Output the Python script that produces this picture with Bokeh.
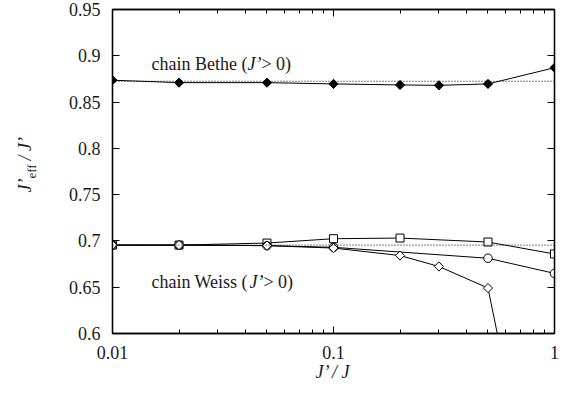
import math
from bokeh.plotting import figure
from bokeh.models import (FixedTicker, CustomJSTickFormatter, LogAxis, LinearAxis,
                          Span, Label, Range1d)
from bokeh.embed import file_html
from bokeh.resources import INLINE

# ---------------- data ----------------
x_bethe = [0.01, 0.02, 0.05, 0.1, 0.2, 0.3, 0.5, 1.0]
y_bethe = [0.8736, 0.8710, 0.8710, 0.8696, 0.8685, 0.8681, 0.8696, 0.8871]

x_square = [0.01, 0.02, 0.05, 0.1, 0.2, 0.5, 1.0]
y_square = [0.6955, 0.6955, 0.6977, 0.7024, 0.7031, 0.6988, 0.6859]

x_circle = [0.01, 0.02, 0.05, 0.1, 0.5, 1.0]
y_circle = [0.6955, 0.6955, 0.6949, 0.6931, 0.6813, 0.6649]

x_diamond = [0.01, 0.02, 0.05, 0.1, 0.2, 0.3, 0.5, 0.6]
y_diamond = [0.6955, 0.6955, 0.6949, 0.6923, 0.6842, 0.6724, 0.6491, 0.557]

bethe_limit = 0.8725
weiss_limit = 0.6955

x_ticks = [0.01, 0.1, 1.0]
y_ticks = [0.6, 0.65, 0.7, 0.75, 0.8, 0.85, 0.9, 0.95]
x_range = (0.01, 1.0)
y_range = (0.6, 0.95)

label_bethe = ["chain Bethe (", "J\u2019", "> 0)"]
label_weiss = ["chain Weiss (", "J\u2019", "> 0)"]
x_label = "J\u2019 / J"
y_label_main = "\u00a0\u00a0\u00a0J\u2019\u00a0\u00a0\u00a0 / J\u2019"
y_label_sub = "eff"

FONT = "Liberation Serif"
FS = 18
TXT = "#1a1a1a"

# ---------------- figure ----------------
p = figure(width=570, height=396, x_axis_type="log",
           x_range=Range1d(*x_range), y_range=Range1d(*y_range),
           output_backend="svg", toolbar_location=None,
           min_border_left=112, min_border_right=16,
           min_border_top=9, min_border_bottom=63)
p.background_fill_color = "white"
p.border_fill_color = "white"
p.xgrid.visible = False
p.ygrid.visible = False
p.outline_line_color = "black"
p.outline_line_width = 1.3

minor = []
for d in x_ticks[:-1]:
    for k in range(2, 10):
        minor.append(d * k)


def style(ax, show_labels, minor_on, ticks_on=True):
    ax.axis_line_color = "black" if ticks_on else None
    ax.axis_line_width = 1.3
    if ticks_on:
        ax.major_tick_in = 7
        ax.major_tick_out = 0
        ax.major_tick_line_color = "black"
        ax.major_tick_line_width = 1
    else:
        ax.major_tick_line_color = None
        ax.major_tick_in = 0
        ax.major_tick_out = 0
    if minor_on:
        ax.minor_tick_in = 4
        ax.minor_tick_out = 0
        ax.minor_tick_line_color = "black"
        ax.minor_tick_line_width = 1
    else:
        ax.minor_tick_line_color = None
        ax.minor_tick_in = 0
        ax.minor_tick_out = 0
    if show_labels:
        ax.formatter = CustomJSTickFormatter(code="return String(tick)")
        ax.major_label_text_font = FONT
        ax.major_label_text_font_size = f"{FS}px"
        ax.major_label_text_color = TXT
        ax.major_label_standoff = 12
    else:
        ax.formatter = CustomJSTickFormatter(code="return ' '")
        ax.major_label_text_font_size = "1px"
        ax.major_label_standoff = 0


xa = p.xaxis[0]
xa.ticker = FixedTicker(ticks=x_ticks, minor_ticks=minor)
style(xa, True, True)
xa.axis_label = x_label
xa.axis_label_text_font = FONT
xa.axis_label_text_font_size = f"{FS}px"
xa.axis_label_text_font_style = "italic"
xa.axis_label_text_color = TXT
xa.axis_label_standoff = 0

# left axis: tick labels + subscript part of the label
ya = p.yaxis[0]
ya.ticker = FixedTicker(ticks=y_ticks)
style(ya, True, False)
ya.axis_label = y_label_sub
ya.axis_label_text_font = FONT
ya.axis_label_text_font_size = "13px"
ya.axis_label_text_font_style = "normal"
ya.axis_label_text_color = TXT
ya.axis_label_standoff = 27

# outer left axis: only carries the main part of the label
ya2 = LinearAxis(ticker=FixedTicker(ticks=y_ticks))
style(ya2, False, False, ticks_on=False)
ya2.axis_label = y_label_main
ya2.axis_label_text_font = FONT
ya2.axis_label_text_font_size = f"{FS}px"
ya2.axis_label_text_font_style = "italic"
ya2.axis_label_text_color = TXT
ya2.axis_label_standoff = -18
p.add_layout(ya2, "left")

top = LogAxis(ticker=FixedTicker(ticks=x_ticks, minor_ticks=minor))
style(top, False, True)
p.add_layout(top, "above")
right = LinearAxis(ticker=FixedTicker(ticks=y_ticks))
style(right, False, False)
p.add_layout(right, "right")

# dotted limits
for lim in (bethe_limit, weiss_limit):
    p.add_layout(Span(location=lim, dimension="width", line_color="black",
                      line_width=1, line_dash="1 2"))

# series
p.line(x_bethe, y_bethe, line_color="black", line_width=1)
p.scatter(x_bethe, y_bethe, marker="square", angle=math.pi / 4, size=6.5,
          fill_color="black", line_color="black", line_width=1)

p.line(x_square, y_square, line_color="black", line_width=1)
p.line(x_circle, y_circle, line_color="black", line_width=1)
p.line(x_diamond, y_diamond, line_color="black", line_width=1)
p.scatter(x_square, y_square, marker="square", size=8,
          fill_color="white", line_color="black", line_width=1)
p.scatter(x_circle, y_circle, marker="circle", size=8.5,
          fill_color="white", line_color="black", line_width=1)
p.scatter(x_diamond, y_diamond, marker="square", angle=math.pi / 4, size=6.5,
          fill_color="white", line_color="black", line_width=1)


# annotations
def inline_label(parts, x, y, offsets):
    styles = ["normal", "italic", "normal"]
    for t, st, off in zip(parts, styles, offsets):
        p.add_layout(Label(x=x, y=y, x_offset=off, text=t, text_font=FONT,
                           text_font_size=f"{FS}px", text_font_style=st,
                           text_color=TXT, text_align="left",
                           text_baseline="alphabetic"))


inline_label(label_bethe, 0.015, 0.8915, [0, 96, 110])
inline_label(label_weiss, 0.015, 0.6555, [0, 98, 112])

open("out.html", "w").write(file_html(p, INLINE))
